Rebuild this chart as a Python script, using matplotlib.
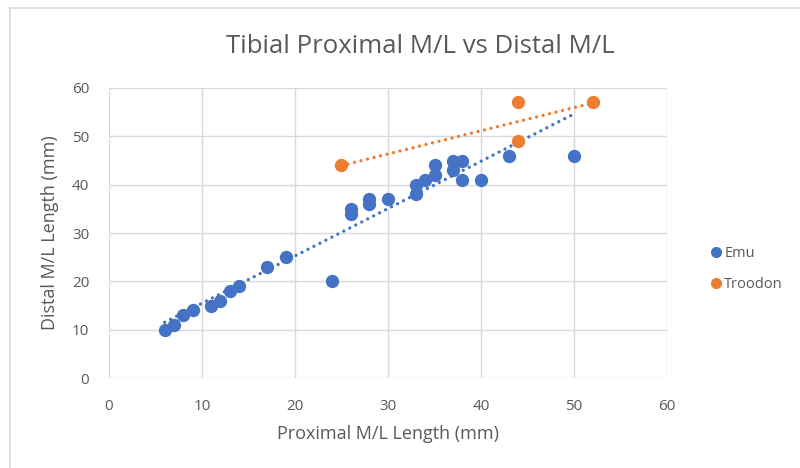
import numpy as np
import matplotlib.pyplot as plt
from matplotlib.lines import Line2D

# proximal vs distal M/L widths of the tibia (mm)
emu_proximal = [6, 7, 8, 9, 11, 12, 13, 14, 17, 19, 24, 26, 26, 28, 28, 30,
                33, 33, 34, 35, 35, 37, 37, 38, 38, 40, 43, 50]
emu_distal = [10, 11, 13, 14, 15, 16, 18, 19, 23, 25, 20, 35, 34, 37, 36, 37,
              40, 38, 41, 44, 42, 45, 43, 45, 41, 41, 46, 46]

troodon_proximal = [25, 44, 44, 52]
troodon_distal = [44, 57, 49, 57]

x_ticks = [0, 10, 20, 30, 40, 50, 60]
y_ticks = [0, 10, 20, 30, 40, 50, 60]

EMU_COLOR = '#4472C4'
TROODON_COLOR = '#ED7D31'
TEXT_COLOR = '#595959'
GRID_COLOR = '#D9D9D9'

plt.rcParams['font.family'] = ['Open Sans', 'DejaVu Sans']

fig = plt.figure(figsize=(8, 4.68), dpi=100)
ax = fig.add_axes([0.136, 0.192, 0.698, 0.620])


def add_trendline(x, y, color):
    x = np.asarray(x, dtype=float)
    y = np.asarray(y, dtype=float)
    slope, intercept = np.polyfit(x, y, 1)
    xs = np.array([x.min(), x.max()])
    ax.plot(xs, slope * xs + intercept, color=color, lw=2.4,
            linestyle=(0, (0.01, 2.0)), dash_capstyle='round', zorder=3)


ax.scatter(emu_proximal, emu_distal, s=92, color=EMU_COLOR, zorder=4, linewidths=0)
ax.scatter(troodon_proximal, troodon_distal, s=92, color=TROODON_COLOR, zorder=4, linewidths=0)
add_trendline(emu_proximal, emu_distal, EMU_COLOR)
add_trendline(troodon_proximal, troodon_distal, TROODON_COLOR)

ax.set_xlim(0, 60)
ax.set_ylim(0, 60)
ax.set_xticks(x_ticks)
ax.set_yticks(y_ticks)
ax.grid(True, color=GRID_COLOR, lw=1)
ax.set_axisbelow(True)
for side in ax.spines.values():
    side.set_visible(False)
ax.tick_params(length=0, colors=TEXT_COLOR, labelsize=11)
ax.tick_params(axis='x', pad=15)
ax.tick_params(axis='y', pad=14)

ax.set_xlabel('Proximal M/L Length (mm)', color=TEXT_COLOR, fontsize=13, labelpad=8)
ax.set_ylabel('Distal M/L Length (mm)', color=TEXT_COLOR, fontsize=13, labelpad=9)
fig.text(0.525, 0.9, 'Tibial Proximal M/L vs Distal M/L', ha='center', va='center',
         color=TEXT_COLOR, fontsize=18.5)

handles = [
    Line2D([], [], marker='o', ls='', color=EMU_COLOR, markersize=7, label='Emu'),
    Line2D([], [], marker='o', ls='', color=TROODON_COLOR, markersize=7, label='Troodon'),
]
fig.legend(handles=handles, loc='center left', bbox_to_anchor=(0.869, 0.426),
           frameon=False, handletextpad=0.1, labelspacing=1.1, fontsize=10.5,
           labelcolor=TEXT_COLOR, handlelength=1.0)

# chart frame
fig.add_artist(Line2D([0.013, 0.013], [0, 0.983], color='#D9D9D9', lw=1.2,
                      transform=fig.transFigure))
fig.add_artist(Line2D([0.013, 1.0], [0.983, 0.983], color='#D9D9D9', lw=1.2,
                      transform=fig.transFigure))

fig.savefig('out.png', dpi=100)
